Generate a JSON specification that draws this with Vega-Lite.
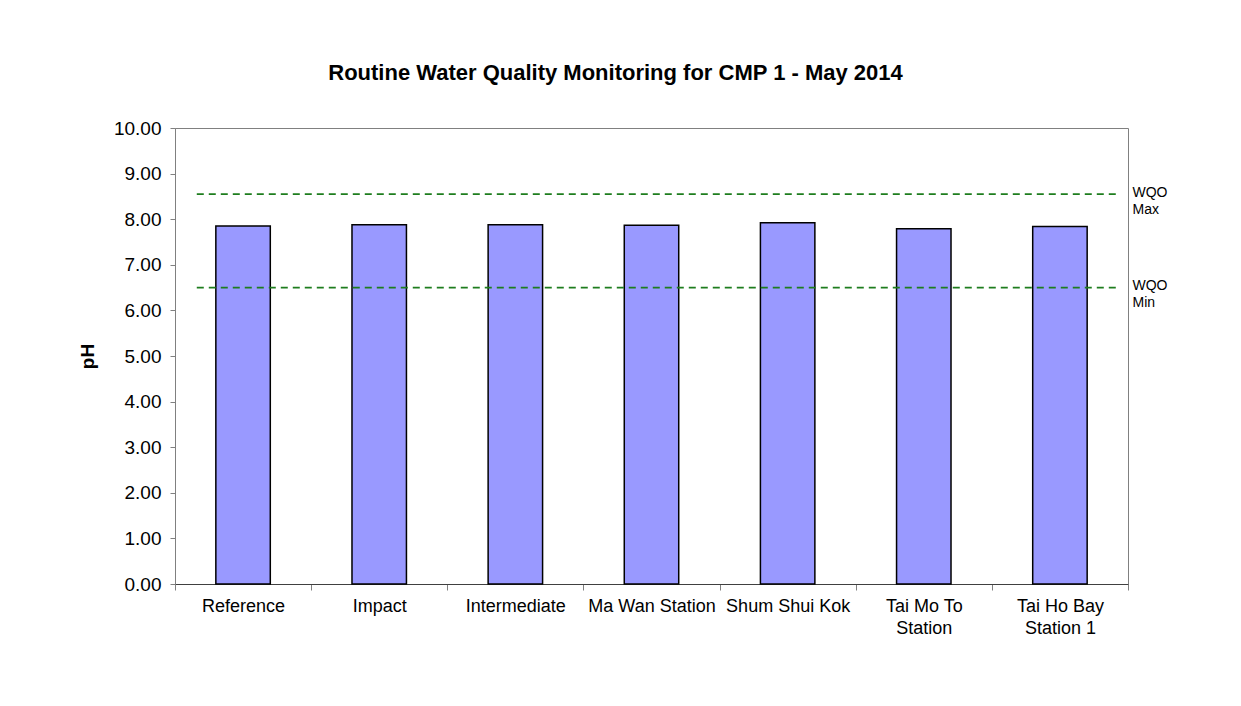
{
  "$schema": "https://vega.github.io/schema/vega-lite/v6.json",
  "width": 953,
  "height": 456,
  "autosize": "none",
  "padding": {"left": 175, "top": 128, "right": 113, "bottom": 122},
  "background": "white",
  "title": {
    "text": "Routine Water Quality Monitoring for CMP 1 - May 2014",
    "font": "Liberation Sans",
    "fontSize": 22,
    "fontWeight": "bold",
    "color": "black",
    "anchor": "middle",
    "dx": -36,
    "offset": 34
  },
  "config": {
    "view": {"stroke": "#808080", "strokeWidth": 1},
    "axis": {
      "labelFont": "Liberation Sans",
      "titleFont": "Liberation Sans",
      "labelColor": "black",
      "titleColor": "black",
      "grid": false
    }
  },
  "layer": [
    {
      "data": {
        "values": [
          {"station": "Reference", "pH": 7.85},
          {"station": "Impact", "pH": 7.88},
          {"station": "Intermediate", "pH": 7.88},
          {"station": "Ma Wan Station", "pH": 7.87},
          {"station": "Shum Shui Kok", "pH": 7.92},
          {"station": "Tai Mo To Station", "pH": 7.79},
          {"station": "Tai Ho Bay Station 1", "pH": 7.84}
        ]
      },
      "mark": {"type": "bar", "fill": "#9999ff", "stroke": "black", "strokeWidth": 1.5, "width": {"band": 0.4}},
      "encoding": {
        "x": {
          "field": "station",
          "type": "nominal",
          "sort": ["Reference", "Impact", "Intermediate", "Ma Wan Station", "Shum Shui Kok", "Tai Mo To Station", "Tai Ho Bay Station 1"],
          "scale": {"paddingInner": 0, "paddingOuter": 0},
          "axis": {
            "title": null,
            "labelAngle": 0,
            "labelFontSize": 18,
            "tickBand": "extent",
            "tickSize": 6,
            "domainColor": "#404040",
            "tickColor": "#808080",
            "labelPadding": 7,
            "labelLimit": 300,
            "labelOverlap": false,
            "labelLineHeight": 22,
            "labelExpr": "datum.label == 'Tai Mo To Station' ? ['Tai Mo To', 'Station'] : datum.label == 'Tai Ho Bay Station 1' ? ['Tai Ho Bay', 'Station 1'] : datum.label"
          }
        },
        "y": {
          "field": "pH",
          "type": "quantitative",
          "scale": {"domain": [0, 10]},
          "axis": {
            "values": [0, 1, 2, 3, 4, 5, 6, 7, 8, 9, 10],
            "format": ".2f",
            "labelFontSize": 19,
            "tickSize": 5,
            "labelPadding": 9,
            "title": "pH",
            "titleFontSize": 19,
            "titleFontWeight": "bold",
            "titlePadding": 16,
            "domainColor": "#808080",
            "tickColor": "#808080"
          }
        }
      }
    },
    {
      "data": {"values": [{"limit": "Max", "value": 8.55}, {"limit": "Min", "value": 6.5}]},
      "mark": {"type": "rule", "stroke": "#1e7d1e", "strokeWidth": 1.8, "strokeDash": [7, 5]},
      "encoding": {
        "x": {"datum": "Reference", "bandPosition": 0.16},
        "x2": {"datum": "Tai Ho Bay Station 1", "bandPosition": 0.93},
        "y": {
          "field": "value",
          "type": "quantitative",
          "axis": {
            "orient": "right",
            "values": [8.55, 6.5],
            "labelExpr": "datum.value > 7 ? ['WQO', 'Max'] : ['WQO', 'Min']",
            "ticks": false,
            "domain": false,
            "labelPadding": 4,
            "labelFontSize": 14,
            "labelAlign": "left",
            "labelBaseline": "top",
            "labelOffset": -9,
            "labelLineHeight": 17,
            "title": null
          }
        }
      }
    }
  ],
  "resolve": {"axis": {"y": "independent"}}
}
